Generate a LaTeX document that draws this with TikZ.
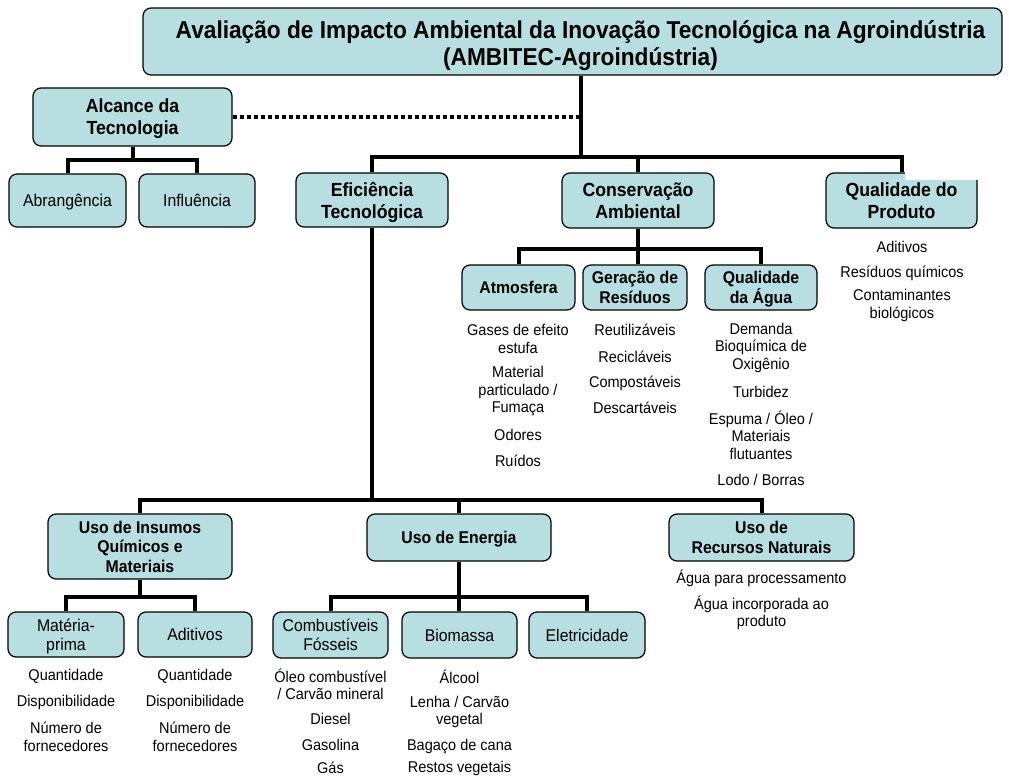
\documentclass[tikz,border=0pt]{standalone}
\usepackage{fontspec}
\setmainfont{Liberation Sans}[FakeStretch=0.93]
\definecolor{boxfill}{RGB}{183,222,225}
\begin{document}
\begin{tikzpicture}[x=1pt,y=-1pt,
  box/.style={draw=black, line width=1.2pt, fill=boxfill, rounded corners=8pt,
              inner sep=0pt, align=center, text depth=0pt},
  conn/.style={line width=4pt, line join=miter},
  dotconn/.style={line width=4pt, dash pattern=on 4.5pt off 2.5pt},
  ttl/.style={font=\fontsize{24.4}{27}\selectfont\bfseries, inner sep=0pt,
              align=center, text depth=0pt},
  lvA/.style={font=\fontsize{19}{22}\selectfont\bfseries},
  lvB/.style={font=\fontsize{17}{19.5}\selectfont\bfseries},
  lvC/.style={font=\fontsize{17}{19}\selectfont},
  item/.style={inner sep=0pt, align=center, font=\fontsize{15.6}{17.5}\selectfont}]
\useasboundingbox (0,0) rectangle (1009,778);

% main title: frame and its text, set a little right of the frame's middle
\node[box,minimum width=859pt,minimum height=67pt] (title) at (572.5,41.5) {};
\node[ttl] (titletext) at (580.5,43.5)
  {Avaliação de Impacto Ambiental da Inovação Tecnológica na Agroindústria\\(AMBITEC-Agroindústria)};

% reach of the technology
\node[box,lvA,minimum width=199pt,minimum height=58pt] (alc) at (132.5,117) {Alcance da\\Tecnologia};
\node[box,lvC,minimum width=117pt,minimum height=53pt] (abr) at (67.5,200.5) {Abrangência};
\node[box,lvC,minimum width=116pt,minimum height=53pt] (infl) at (197,200.5) {Influência};

% first level aspects
\node[box,lvA,minimum width=152pt,minimum height=54pt] (efic) at (372,200) {Eficiência\\Tecnológica};
\node[box,lvA,minimum width=152pt,minimum height=55pt] (cons) at (638,200.5) {Conservação\\Ambiental};
\node[box,lvA,minimum width=151pt,minimum height=55pt] (qprod) at (901.5,200.5) {Qualidade do\\Produto};

% environmental conservation
\node[box,lvB,minimum width=113pt,minimum height=45pt] (atm) at (518.5,287.5) {Atmosfera};
\node[box,lvB,minimum width=104pt,minimum height=45pt] (ger) at (635,287.5) {Geração de\\Resíduos};
\node[box,lvB,minimum width=112pt,minimum height=45pt] (qagua) at (761,287.5) {Qualidade\\da Água};

% technological efficiency
\node[box,lvB,minimum width=184pt,minimum height=65pt] (ins) at (140,546.5) {Uso de Insumos\\Químicos e\\Materiais};
\node[box,lvB,minimum width=184pt,minimum height=47pt] (ene) at (459,537.5) {Uso de Energia};
\node[box,lvB,minimum width=185pt,minimum height=47pt] (rec) at (761.5,537.5) {Uso de\\Recursos Naturais};

\node[box,lvC,minimum width=116pt,minimum height=45pt] (mp) at (66,634.5) {Matéria-\\prima};
\node[box,lvC,minimum width=114pt,minimum height=45pt] (adt) at (195,634.5) {Aditivos};
\node[box,lvC,minimum width=115pt,minimum height=46pt] (comb) at (330.5,635) {Combustíveis\\Fósseis};
\node[box,lvC,minimum width=115pt,minimum height=46pt] (bio) at (459.5,635) {Biomassa};
\node[box,lvC,minimum width=116pt,minimum height=46pt] (elet) at (587,635) {Eletricidade};

% indicator lists
\node[item] (qp1) at (902,247) {Aditivos};
\node[item] (qp2) at (902,273) {Resíduos químicos};
\node[item] (qp3) at (902,305.5) {Contaminantes\\biológicos};

\node[item] (at1) at (518,339) {Gases de efeito\\estufa};
\node[item] (at2) at (518,391) {Material\\particulado /\\Fumaça};
\node[item] (at3) at (518,435) {Odores};
\node[item] (at4) at (518,461) {Ruídos};

\node[item] (gr1) at (635,330) {Reutilizáveis};
\node[item] (gr2) at (635,357) {Recicláveis};
\node[item] (gr3) at (635,383) {Compostáveis};
\node[item] (gr4) at (635,408) {Descartáveis};

\node[item] (qa1) at (761,347.5) {Demanda\\Bioquímica de\\Oxigênio};
\node[item] (qa2) at (761,392) {Turbidez};
\node[item] (qa3) at (761,435) {Espuma / Óleo /\\Materiais\\flutuantes};
\node[item] (qa4) at (761,480) {Lodo / Borras};

\node[item] (rn1) at (761.5,578) {Água para processamento};
\node[item] (rn2) at (761.5,613) {Água incorporada ao\\produto};

\node[item] (mp1) at (66,676) {Quantidade};
\node[item] (mp2) at (66,702) {Disponibilidade};
\node[item] (mp3) at (66,737) {Número de\\fornecedores};

\node[item] (ad1) at (195,676) {Quantidade};
\node[item] (ad2) at (195,702) {Disponibilidade};
\node[item] (ad3) at (195,737) {Número de\\fornecedores};

\node[item] (cb1) at (330.5,684.5) {Óleo combustível\\/ Carvão mineral};
\node[item] (cb2) at (330.5,719) {Diesel};
\node[item] (cb3) at (330.5,745) {Gasolina};
\node[item] (cb4) at (330.5,768) {Gás};

\node[item] (bm1) at (459.5,677) {Álcool};
\node[item] (bm2) at (459.5,712) {Lenha / Carvão\\vegetal};
\node[item] (bm3) at (459.5,746) {Bagaço de cana};
\node[item] (bm4) at (459.5,768) {Restos vegetais};

% connectors
\coordinate (jt) at (581,157);
\coordinate (ja) at (0,160);
\coordinate (jc) at (0,249);
\coordinate (jb) at (0,500);
\coordinate (jd) at (0,597);

\draw[conn] (jt |- title.south) -- (jt);
\draw[conn] (efic.north) -- (efic.north |- jt) -- (qprod.north |- jt) -- (qprod.north);
\draw[conn] (cons.north) -- (cons.north |- jt);
\draw[dotconn] (alc.east) -- (alc.east -| jt);

\draw[conn] (alc.south) -- (alc.south |- ja);
\draw[conn] (abr.north) -- (abr.north |- ja) -- (infl.north |- ja) -- (infl.north);

\draw[conn] (cons.south) -- (cons.south |- ger.north);
\draw[conn] (atm.north) -- (atm.north |- jc) -- (qagua.north |- jc) -- (qagua.north);

\draw[conn] (efic.south) -- (efic.south |- jb);
\draw[conn] (ins.north) -- (ins.north |- jb) -- (rec.north |- jb) -- (rec.north);
\draw[conn] (ene.north) -- (ene.north |- jb);

\draw[conn] (ins.south) -- (ins.south |- jd);
\draw[conn] (mp.north) -- (mp.north |- jd) -- (adt.north |- jd) -- (adt.north);
\draw[conn] (ene.south) -- (ene.south |- bio.north);
\draw[conn] (comb.north) -- (comb.north |- jd) -- (elet.north |- jd) -- (elet.north);

% blank patch over the corner of the product quality box
\fill[white] (905,150) rectangle (979,180);
\end{tikzpicture}
\end{document}
